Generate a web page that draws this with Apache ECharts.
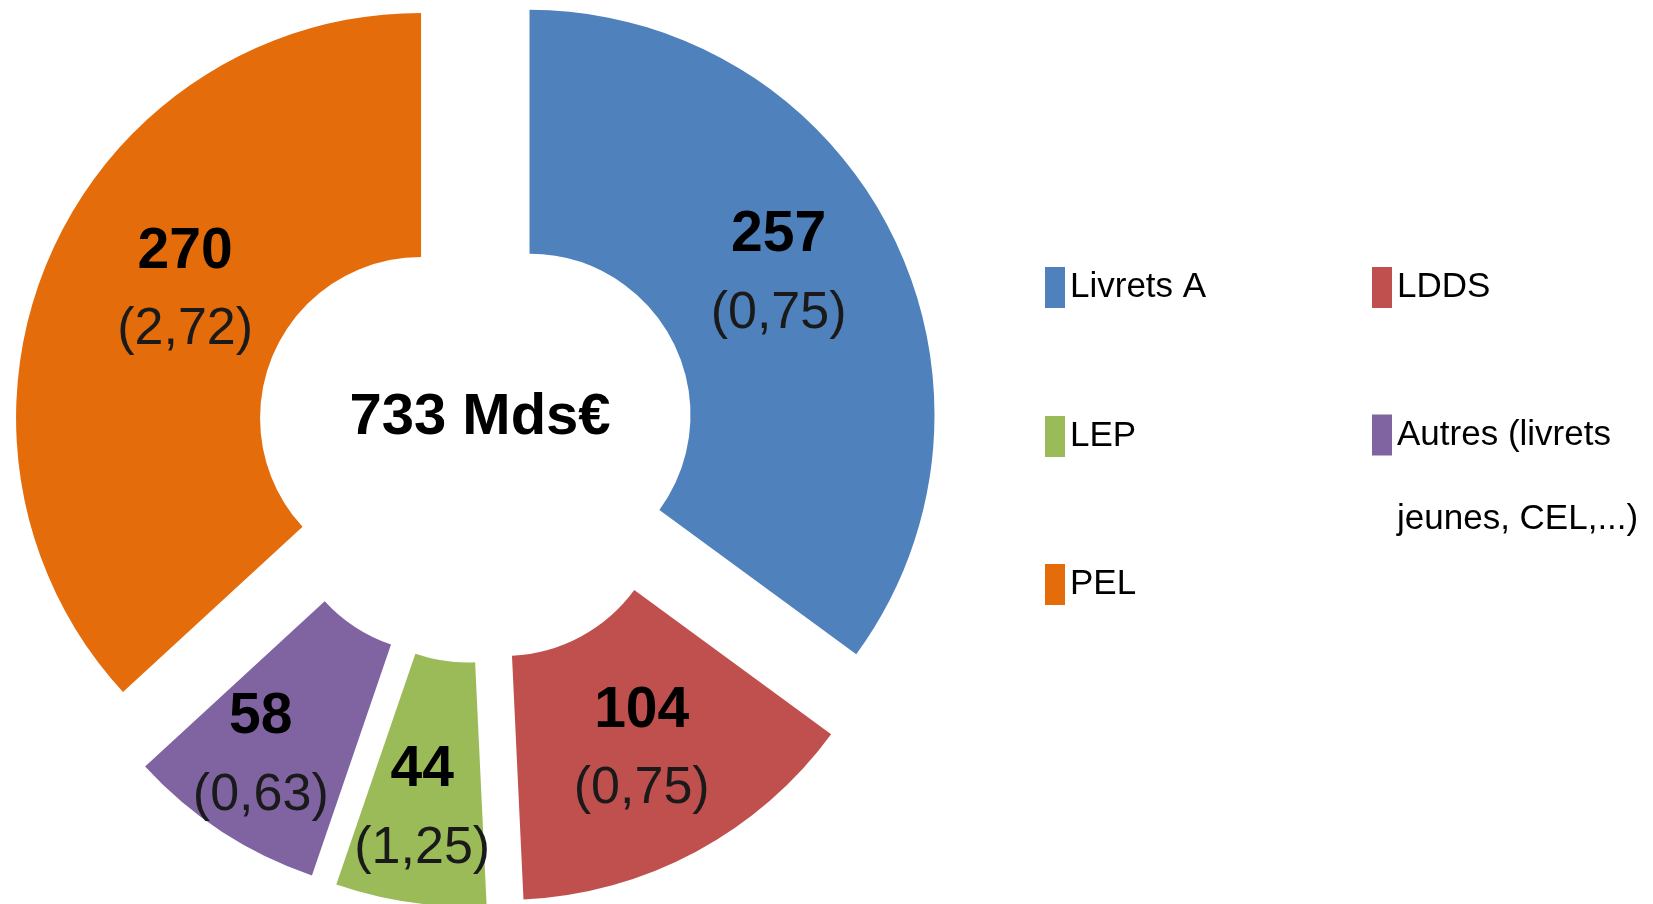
<!DOCTYPE html>
<html>
<head>
<meta charset="utf-8">
<script src="https://cdn.jsdelivr.net/npm/echarts@6/dist/echarts.min.js"></script>
<style>
    html, body { margin: 0; padding: 0; background: #fff; }
    #chart { width: 1653px; height: 904px; }
</style>
</head>
<body>
<div id="chart"></div>
<script>
// données : encours (Mds€) et taux (%)
const categories = ['Livrets A', 'LDDS', 'LEP', 'Autres (livrets jeunes, CEL,...)', 'PEL'];
const encours = [257, 104, 44, 58, 270];
const taux = ['0,75', '0,75', '1,25', '0,63', '2,72'];
const total = '733 Mds€';

const couleurs = ['#4F81BD', '#C0504D', '#9BBB59', '#8064A2', '#E46C0A'];

// position des légendes (2 colonnes)
const legendPos = [
    { left: 1045, top: 267 },
    { left: 1372, top: 267 },
    { left: 1045, top: 416 },
    { left: 1372, top: 309 },
    { left: 1045, top: 564 }
];

// petits décalages des étiquettes (comme dans l'original)
const labelShift = [[-6, -11], [2, 3], [-5, 25], [-26, 25], [26, -12]];

const chart = echarts.init(document.getElementById('chart'));

const option = {
    animation: false,
    backgroundColor: '#fff',
    color: couleurs,
    legend: categories.map((name, i) => {
        const multi = name.indexOf('Autres') === 0;
        return {
            data: [name],
            left: legendPos[i].left,
            top: legendPos[i].top,
            padding: 0,
            icon: 'rect',
            itemWidth: 20,
            itemHeight: 41,
            selectedMode: false,
            // ligne vide en tête pour garder le carré au niveau de la 1re ligne
            formatter: n => multi ? '\n' + n.replace(' jeunes', '\njeunes') : n,
            textStyle: {
                fontFamily: '"Liberation Sans", Arial, sans-serif',
                fontSize: 35,
                color: '#000',
                lineHeight: multi ? 84 : 40
            }
        };
    }),
    graphic: [
        {
            type: 'text',
            x: 480,
            y: 418,
            style: {
                text: total,
                fontFamily: '"Liberation Sans", Arial, sans-serif',
                fontWeight: 'bold',
                fontSize: 58,
                fill: '#000',
                align: 'center',
                verticalAlign: 'middle'
            }
        }
    ],
    series: [
        {
            type: 'pie',
            center: [476, 442],
            radius: [161, 405],
            startAngle: 90,
            clockwise: true,
            selectedMode: 'multiple',
            selectedOffset: 60,
            avoidLabelOverlap: false,
            itemStyle: { borderWidth: 0 },
            select: { itemStyle: { borderWidth: 0 } },
            emphasis: { disabled: true },
            label: {
                show: true,
                position: 'inside',
                width: 60,
                overflow: 'none',
                formatter: p => '{v|' + p.value + '}\n{t|(' + taux[p.dataIndex] + ')}',
                rich: {
                    v: {
                        fontFamily: '"Liberation Sans", Arial, sans-serif',
                        fontWeight: 'bold',
                        fontSize: 57,
                        color: '#000',
                        lineHeight: 78,
                        align: 'center'
                    },
                    t: {
                        fontFamily: '"Liberation Sans", Arial, sans-serif',
                        fontSize: 52,
                        color: '#1a1a1a',
                        lineHeight: 78,
                        align: 'center'
                    }
                }
            },
            labelLayout: p => ({
                dx: labelShift[p.dataIndex][0],
                dy: labelShift[p.dataIndex][1]
            }),
            labelLine: { show: false },
            data: categories.map((name, i) => ({
                name: name,
                value: encours[i],
                selected: true
            }))
        }
    ]
};

chart.setOption(option);
</script>
</body>
</html>
